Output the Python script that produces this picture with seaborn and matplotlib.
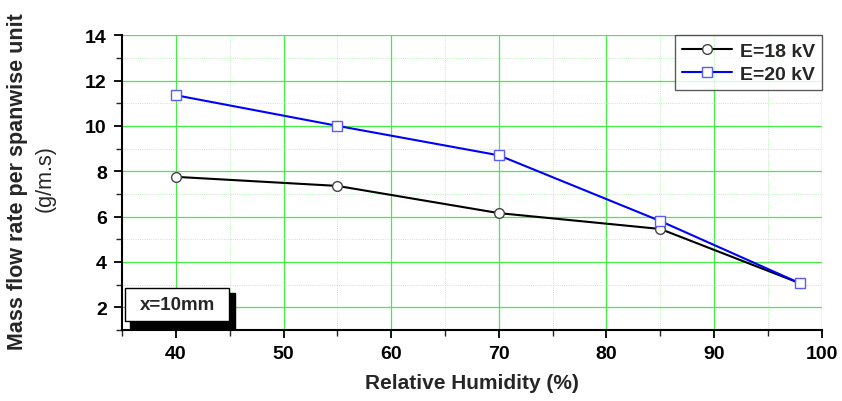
import matplotlib
matplotlib.use("Agg")
import matplotlib.pyplot as plt
import seaborn as sns
import pandas as pd
from matplotlib.patches import Rectangle
from matplotlib.ticker import MultipleLocator

humidity = [40, 55, 70, 85, 98]
flow_18kv = [7.75, 7.35, 6.15, 5.45, 3.05]
flow_20kv = [11.35, 10.0, 8.7, 5.8, 3.05]
series_names = ["E=18 kV", "E=20 kV"]

df = pd.concat([
    pd.DataFrame({"RH": humidity, "flow": flow_18kv, "series": series_names[0]}),
    pd.DataFrame({"RH": humidity, "flow": flow_20kv, "series": series_names[1]}),
])

sns.set_style("white")
plt.rcParams['font.family'] = ['Liberation Sans', 'DejaVu Sans']

fig = plt.figure(figsize=(8.42, 4.02), dpi=100)
ax = fig.add_axes([0.145, 0.177, 0.831, 0.733])

palette = {series_names[0]: "black", series_names[1]: "#0000ff"}
markers = {series_names[0]: "o", series_names[1]: "s"}
sns.lineplot(data=df, x="RH", y="flow", hue="series", style="series",
             palette=palette, markers=markers, dashes=False, ax=ax,
             markersize=7, markerfacecolor="white", linewidth=1.5, zorder=3)
for line in ax.get_lines():
    c = line.get_color()
    line.set_markeredgecolor("#444444" if c == "black" else "#5a5aff")
    line.set_markeredgewidth(1.0)

ax.set_xlim(35, 100)
ax.set_ylim(1, 14)
ax.xaxis.set_major_locator(MultipleLocator(10))
ax.xaxis.set_minor_locator(MultipleLocator(5))
ax.yaxis.set_major_locator(MultipleLocator(2))
ax.yaxis.set_minor_locator(MultipleLocator(1))
ax.set_yticks([2, 4, 6, 8, 10, 12, 14])
ax.grid(which="major", color="#44ee44", linewidth=0.9, linestyle="-")
ax.grid(which="minor", color="#a0eea0", linewidth=0.6, linestyle=":")
ax.set_axisbelow(True)

for s in ["top", "right"]:
    ax.spines[s].set_visible(False)
for s in ["left", "bottom"]:
    ax.spines[s].set_color("black")
    ax.spines[s].set_linewidth(1.5)

ax.tick_params(which="major", direction="out", length=6, width=1.3,
               labelsize=14, bottom=True, left=True, colors="black", pad=5)
ax.tick_params(which="minor", direction="out", length=4, width=1.0,
               bottom=True, left=True)
for lab in ax.get_xticklabels() + ax.get_yticklabels():
    lab.set_fontweight("bold")

ax.set_xlabel("")
ax.set_ylabel("")
fig.text(0.56, 0.047, "Relative Humidity (%)", fontsize=15, fontweight="bold",
         ha="center", va="center")
fig.text(0.021, 0.548, "Mass flow rate per spanwise unit", rotation=90,
         fontsize=15.5, fontweight="bold", ha="center", va="center")
fig.text(0.054, 0.557, "(g/m.s)", rotation=90, fontsize=15.5,
         ha="center", va="center")

leg = ax.legend(loc="upper right", bbox_to_anchor=(1.0, 1.0), borderaxespad=0.0,
                fontsize=14, frameon=True, fancybox=False, edgecolor="#333333",
                handlelength=2.6, borderpad=0.35, labelspacing=0.3,
                handletextpad=0.4)
leg.get_frame().set_linewidth(1.0)
for t in leg.get_texts():
    t.set_fontweight("bold")

# annotation box with drop shadow
ax.add_patch(Rectangle((0.011, 0.003), 0.150, 0.122, transform=ax.transAxes,
                       facecolor="black", edgecolor="black", zorder=5,
                       clip_on=False))
ax.add_patch(Rectangle((0.004, 0.031), 0.149, 0.111, transform=ax.transAxes,
                       facecolor="white", edgecolor="black", linewidth=1.0,
                       zorder=6, clip_on=False))
ax.text(0.0785, 0.087, "x=10mm", transform=ax.transAxes, fontsize=13.5,
        fontweight="bold", ha="center", va="center", zorder=7)

fig.savefig("out.png", dpi=100, facecolor="white")
